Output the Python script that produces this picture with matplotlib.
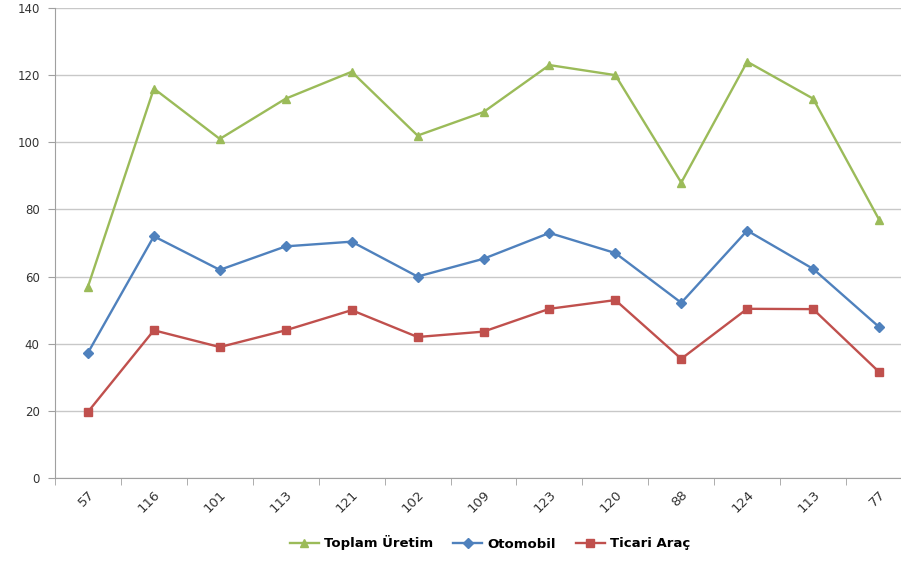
import matplotlib
matplotlib.use("Agg")
import matplotlib.pyplot as plt
import numpy as np

categories = ["57", "116", "101", "113", "121", "102", "109", "123", "120", "88", "124", "113", "77"]
toplam = [57, 116, 101, 113, 121, 102, 109, 123, 120, 88, 124, 113, 77]
otomobil = [37.3, 72, 62, 69, 70.4, 60, 65.3, 73, 67, 52.2, 73.7, 62.3, 45]
ticari = [19.7, 44, 39, 44, 50, 42, 43.6, 50.4, 53, 35.5, 50.4, 50.3, 31.6]
series_names = ["Toplam Üretim", "Otomobil", "Ticari Araç"]
yticks = [0, 20, 40, 60, 80, 100, 120, 140]

W, H = 901, 584
fig = plt.figure(figsize=(W / 100, H / 100), dpi=100)
left, right, top, bottom = 55, 912, 8, 478
ax = fig.add_axes([left / W, 1 - bottom / H, (right - left) / W, (bottom - top) / H])

x = np.arange(len(categories))
ax.plot(x, toplam, color="#9BBB59", marker="^", markersize=6, linewidth=1.7, label=series_names[0])
ax.plot(x, otomobil, color="#4F81BD", marker="D", markersize=5, linewidth=1.7, label=series_names[1])
ax.plot(x, ticari, color="#C0504D", marker="s", markersize=6, linewidth=1.7, label=series_names[2])

ax.set_xlim(-0.5, len(categories) - 0.5)
ax.set_ylim(0, 140)
ax.set_yticks(yticks)
ax.set_yticklabels([str(v) for v in yticks], fontsize=8.5, color="#333333")
ax.yaxis.grid(True, color="#C8C8C8", linewidth=1)
ax.set_axisbelow(True)

ax.set_xticks(x)
ax.set_xticklabels(categories, rotation=45, ha="right", rotation_mode="anchor",
                   fontsize=9.5, color="#333333")
ax.set_xticks(np.arange(-0.5, len(categories)), minor=True)
ax.tick_params(axis="x", which="major", length=0, pad=7)
ax.tick_params(axis="x", which="minor", length=5, color="#A0A0A0", direction="out")
ax.tick_params(axis="y", length=5, color="#A0A0A0", pad=6)

for s in ["top", "right"]:
    ax.spines[s].set_visible(False)
for s in ["left", "bottom"]:
    ax.spines[s].set_color("#A0A0A0")

leg = fig.legend(loc="center", bbox_to_anchor=(490 / W, 1 - 543 / H), ncol=3, frameon=False,
                 prop={"weight": "bold", "size": 9.5}, handlelength=2.2, columnspacing=1.5,
                 handletextpad=0.4)

fig.savefig("out.png", dpi=100)
